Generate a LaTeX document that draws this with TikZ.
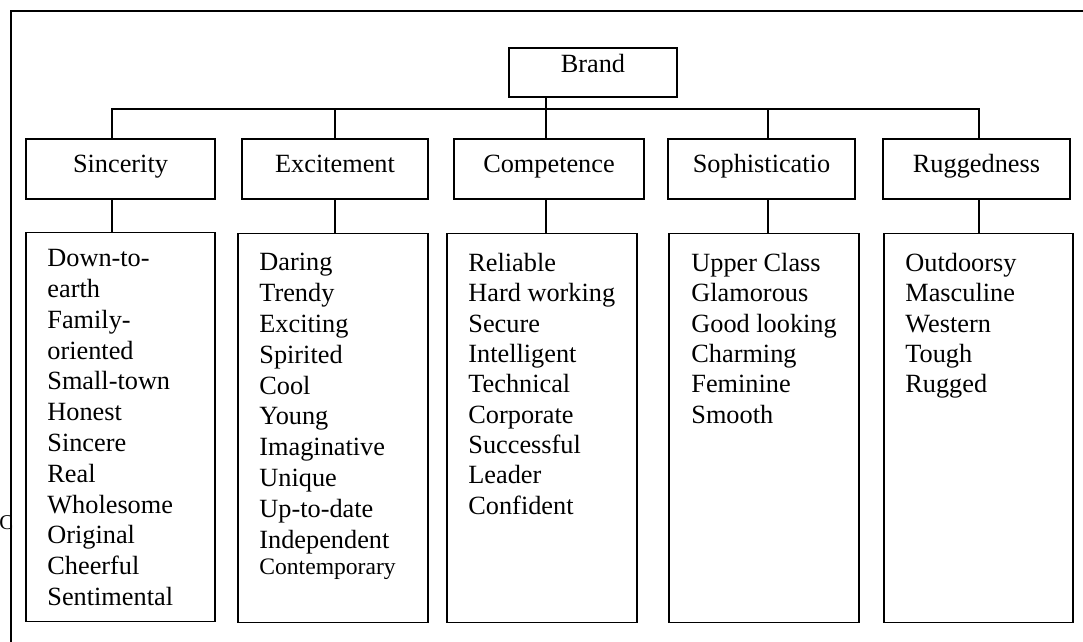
\documentclass[tikz,border=0pt]{standalone}
\usepackage{fontspec}
\setmainfont{Liberation Serif}
\usetikzlibrary{positioning}

\begin{document}
\begin{tikzpicture}[
            x=0.5pt, y=-0.5pt,
            base/.style = {draw, rectangle, line width=0.7pt, inner sep=0pt,
                    align=center, font=\fontsize{13.15}{15}\selectfont},
            root/.style = {base, minimum width=84pt, minimum height=24.5pt,
                    text height=7pt, text depth=7pt},
            trait/.style = {base, minimum height=30pt,
                    text height=9pt, text depth=5pt},
            facets/.style = {base, minimum width=95pt, minimum height=194.5pt},
            items/.style = {anchor=north west, inner sep=0pt, align=left,
                    font=\fontsize{13.15}{15.4}\selectfont},
            tight/.style = {items, font=\fontsize{13.15}{15.15}\selectfont},
            wire/.style = {line width=0.7pt}]

        \useasboundingbox (0,0) rectangle (1083,642);
        \clip (0,0) rectangle (1083,642);

        % frame
        \draw [wire] (11,700) -- (11,11) -- (1120,11);
        \node [anchor=west, inner sep=0pt,
            font=\fontsize{10.5}{11}\selectfont] (mark) at (-1,523) {C};

        \node [root] (brand) at (593,72.5) {Brand};

        % dimensions
        \node [trait, minimum width=94.5pt] (sinc) at (120.5,169) {Sincerity};
        \node [trait, minimum width=93pt]   (exci) at (335,169)   {Excitement};
        \node [trait, minimum width=95pt]   (comp) at (549,169)   {Competence};
        \node [trait, minimum width=93.5pt] (soph) at (761.5,169) {Sophisticatio};
        \node [trait, minimum width=93.5pt] (rugg) at (976.5,169) {Ruggedness};

        % facet boxes
        \node [facets, minimum width=94.5pt] (sinc-box) at (120.5,427) {};
        \node [facets] (exci-box) at (333,428) {};
        \node [facets] (comp-box) at (542,428) {};
        \node [facets] (soph-box) at (764,428) {};
        \node [facets, minimum width=94.5pt] (rugg-box) at (978.5,428) {};

        % facet lists
        \node [items] (sinc-items) at (47,249)
            {Down-to-\\earth\\Family-\\oriented\\Small-town\\Honest\\Sincere\\
             Real\\Wholesome\\Original\\Cheerful\\Sentimental};
        \node [items] (exci-items) at (259,253)
            {Daring\\Trendy\\Exciting\\Spirited\\Cool\\Young\\Imaginative\\
             Unique\\Up-to-date\\Independent\\[-2.4pt]
             {\fontsize{11.8}{15.4}\selectfont Contemporary}};
        \node [tight] (comp-items) at (468,253)
            {Reliable\\Hard working\\Secure\\Intelligent\\Technical\\
             Corporate\\Successful\\Leader\\Confident};
        \node [tight] (soph-items) at (691,253)
            {Upper Class\\Glamorous\\Good looking\\Charming\\Feminine\\Smooth};
        \node [tight] (rugg-items) at (905,253)
            {Outdoorsy\\Masculine\\Western\\Tough\\Rugged};

        %% connectors
        \coordinate (tap-1) at (112,109);
        \coordinate (tap-2) at (335,109);
        \coordinate (tap-3) at (546,109);
        \coordinate (tap-4) at (768,109);
        \coordinate (tap-5) at (979,109);

        \draw [wire] (tap-1 |- sinc.north) -- (tap-1) -- (tap-5) -- (tap-5 |- rugg.north);
        \draw [wire] (tap-3 |- brand.south) -- (tap-3 |- comp.north);
        \draw [wire] (tap-2) -- (tap-2 |- exci.north);
        \draw [wire] (tap-4) -- (tap-4 |- soph.north);

        \draw [wire] (tap-1 |- sinc.south) -- (tap-1 |- sinc-box.north);
        \draw [wire] (tap-2 |- exci.south) -- (tap-2 |- exci-box.north);
        \draw [wire] (tap-3 |- comp.south) -- (tap-3 |- comp-box.north);
        \draw [wire] (tap-4 |- soph.south) -- (tap-4 |- soph-box.north);
        \draw [wire] (tap-5 |- rugg.south) -- (tap-5 |- rugg-box.north);
    \end{tikzpicture}
\end{document}
